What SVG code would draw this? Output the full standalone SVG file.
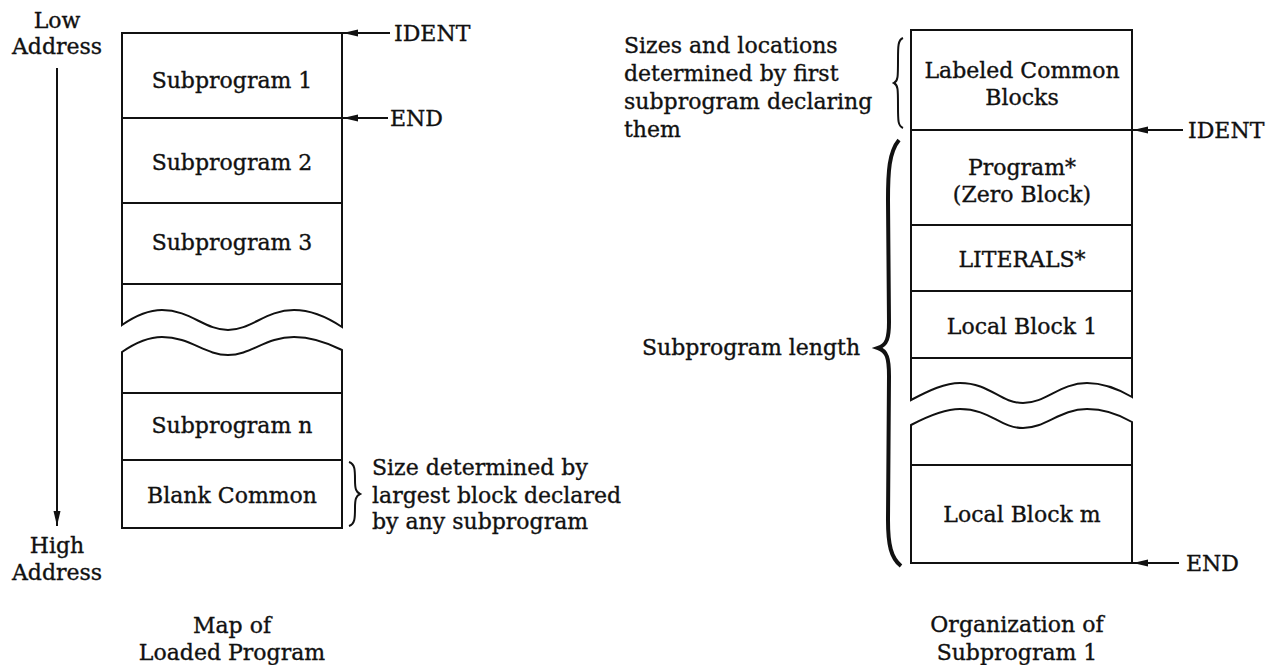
<svg xmlns="http://www.w3.org/2000/svg" width="1271" height="665" viewBox="0 0 1271 665">
<style>
text{font-family:"DejaVu Serif","Liberation Serif",serif;font-size:22px;fill:#111;stroke:#111;stroke-width:0.35;}
.c{text-anchor:middle;}
.box{fill:#fff;stroke:#111;stroke-width:2;}
.ln{fill:none;stroke:#111;stroke-width:2;}
.br{fill:none;stroke:#111;stroke-width:2;}
</style>
<defs>
<marker id="ah" markerWidth="16" markerHeight="10" refX="15" refY="5" orient="auto" markerUnits="userSpaceOnUse">
<path d="M0,1.5 L15,5 L0,8.5 Z" fill="#111"/>
</marker>
</defs>
<rect width="1271" height="665" fill="#fff"/>

<!-- Left diagram -->
<g id="axis">
<text class="c" x="57" y="28">Low</text>
<text class="c" x="57" y="54">Address</text>
<text class="c" x="57" y="553">High</text>
<text class="c" x="57" y="580">Address</text>
</g>
<g id="sub1"><rect class="box" x="122" y="33" width="220" height="85"/><text class="c" x="232" y="88">Subprogram 1</text></g>
<g id="sub2"><rect class="box" x="122" y="118" width="220" height="85"/><text class="c" x="232" y="170">Subprogram 2</text></g>
<g id="sub3"><rect class="box" x="122" y="203" width="220" height="81"/><text class="c" x="232" y="250">Subprogram 3</text></g>
<g id="gapTopL"><path class="box" d="M342,327 V284 H122 V325 C135,316 148,310 162,310 C190,310 205,330 228,330 C251,330 266,310 294,310 C312,310 330,319 342,327 Z"/></g>
<g id="gapBotL"><path class="box" d="M122,352 C135,343 148,337 162,337 C190,337 205,355 228,355 C251,355 266,337 294,337 C312,337 330,344 342,350 V393 H122 Z"/></g>
<g id="subn"><rect class="box" x="122" y="393" width="220" height="67"/><text class="c" x="232" y="433">Subprogram n</text></g>
<g id="blank"><rect class="box" x="122" y="460" width="220" height="68"/><text class="c" x="232" y="503">Blank Common</text></g>
<g id="blankNote">
<path class="br" d="M349,462 C355,464 355,470 355,480 C355,489 356,492 360,494 C356,496 355,499 355,508 C355,518 355,524 349,526"/>
<text x="372" y="475">Size determined by</text>
<text x="372" y="503">largest block declared</text>
<text x="372" y="529">by any subprogram</text>
</g>
<g id="capL">
<text class="c" x="232" y="633">Map of</text>
<text class="c" x="232" y="660">Loaded Program</text>
</g>

<!-- Right diagram -->
<g id="labeled"><rect class="box" x="911" y="30" width="221" height="100"/><text class="c" x="1022" y="78">Labeled Common</text><text class="c" x="1022" y="105">Blocks</text></g>
<g id="program"><rect class="box" x="911" y="130" width="221" height="95"/><text class="c" x="1022" y="175">Program*</text><text class="c" x="1022" y="202">(Zero Block)</text></g>
<g id="literals"><rect class="box" x="911" y="225" width="221" height="66"/><text class="c" x="1022" y="267">LITERALS*</text></g>
<g id="local1"><rect class="box" x="911" y="291" width="221" height="67"/><text class="c" x="1022" y="334">Local Block 1</text></g>
<g id="gapTopR"><path class="box" d="M1132,397 V358 H911 V400 C930,390 945,383 960,383 C990,383 1000,403 1023,403 C1046,403 1060,383 1087,383 C1105,383 1120,390 1132,397 Z"/></g>
<g id="gapBotR"><path class="box" d="M911,425 C930,415 945,409 960,409 C990,409 1000,428 1023,428 C1046,428 1060,409 1087,409 C1105,409 1120,415 1132,422 V465 H911 Z"/></g>
<g id="localm"><rect class="box" x="911" y="465" width="221" height="98"/><text class="c" x="1022" y="522">Local Block m</text></g>
<g id="sizesNote">
<path class="br" d="M903,38 C898,40 898,46 898,60 C898,77 898,81 894,83 C898,85 898,89 898,106 C898,121 898,126 903,128"/>
<text x="624" y="53">Sizes and locations</text>
<text x="624" y="81">determined by first</text>
<text x="624" y="109">subprogram declaring</text>
<text x="624" y="137">them</text>
</g>
<g id="lengthNote">
<path d="M899,140 C889,152 888,172 888,200 L889,322 C889,338 887,345 878,348 C887,351 889,358 889,376 L888,520 C888,545 891,558 901,566" fill="none" stroke="#111" stroke-width="4"/>
<text x="642" y="355">Subprogram length</text>
</g>
<g id="capR">
<text class="c" x="1017" y="632">Organization of</text>
<text class="c" x="1017" y="660">Subprogram 1</text>
</g>

<!-- Connectors -->
<g id="connectors">
<line class="ln" x1="57" y1="68" x2="57" y2="526" marker-end="url(#ah)"/>
<line class="ln" x1="390" y1="33" x2="343" y2="33" marker-end="url(#ah)"/>
<text x="394" y="41">IDENT</text>
<line class="ln" x1="388" y1="118" x2="343" y2="118" marker-end="url(#ah)"/>
<text x="390" y="126">END</text>
<line class="ln" x1="1183" y1="130" x2="1133" y2="130" marker-end="url(#ah)"/>
<text x="1188" y="138">IDENT</text>
<line class="ln" x1="1179" y1="563" x2="1133" y2="563" marker-end="url(#ah)"/>
<text x="1186" y="571">END</text>
</g>
</svg>
